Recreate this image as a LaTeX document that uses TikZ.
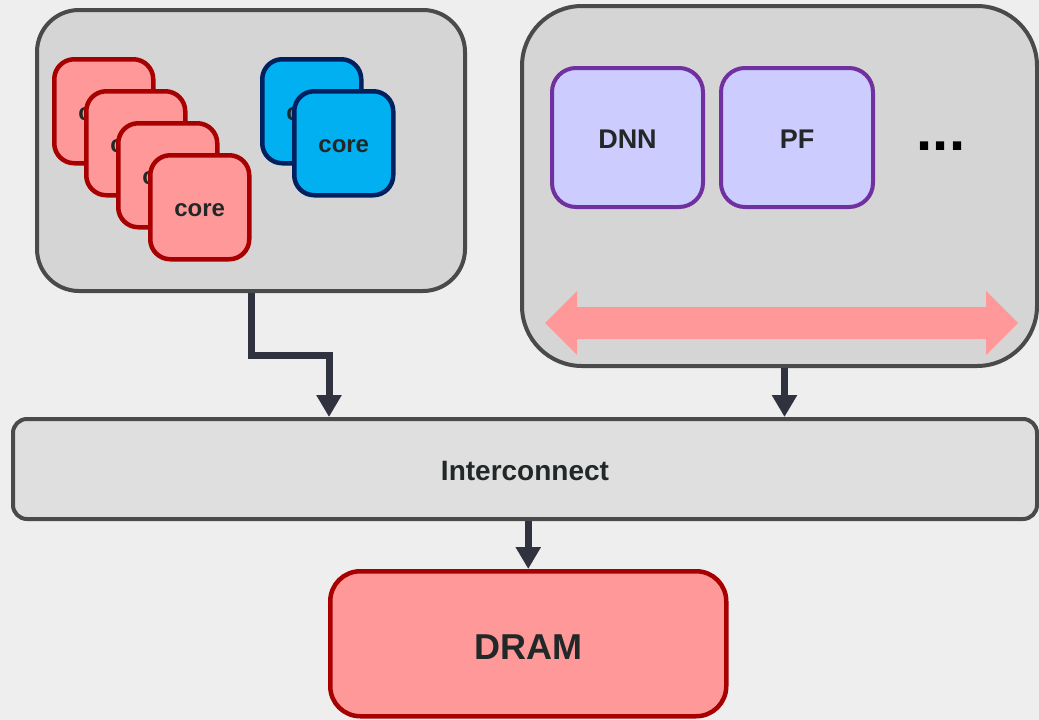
\documentclass[tikz,border=0pt]{standalone}
\usepackage{fontspec}
\setmainfont{Liberation Sans}
\usetikzlibrary{arrows.meta,calc}

\definecolor{bgc}{HTML}{EEEEEE}
\definecolor{boxfill}{HTML}{D5D5D5}
\definecolor{boxline}{HTML}{4A4A4A}
\definecolor{icfill}{HTML}{DFDFDF}
\definecolor{redfill}{HTML}{FF9999}
\definecolor{redline}{HTML}{A80000}
\definecolor{bluefill}{HTML}{00B0F0}
\definecolor{blueline}{HTML}{002060}
\definecolor{accfill}{HTML}{CCCCFF}
\definecolor{accline}{HTML}{7030A0}
\definecolor{connc}{HTML}{30323F}
\definecolor{txt}{HTML}{222828}

\tikzset{
  every node/.style={inner sep=0pt, text=txt},
  block/.style={draw=boxline, fill=boxfill, line width=4pt, anchor=north west},
  redcore/.style={draw=redline, fill=redfill, line width=4.5pt, rounded corners=20pt,
    minimum width=99pt, minimum height=104pt, anchor=north west,
    text height=18pt, text depth=0pt,
    font=\fontsize{24}{28}\selectfont\bfseries},
  bluecore/.style={redcore, draw=blueline, fill=bluefill},
  accel/.style={draw=accline, fill=accfill, line width=4pt, rounded corners=24pt,
    minimum height=139pt, anchor=north west, text height=21pt, text depth=0pt,
    font=\fontsize{27}{32}\selectfont\bfseries},
  conn/.style={draw=connc, line width=7pt, -{Triangle[length=22pt,width=24pt]}},
}

\begin{document}
\begin{tikzpicture}[x=1pt, y=-1pt]
  % canvas
  \fill[bgc] (0,0) rectangle (1039,720);
  \useasboundingbox (0,0) rectangle (1039,720);

  % CPU cluster (positions are outer corners)
  \node[block, rounded corners=42pt, minimum width=428pt, minimum height=281pt] (L) at (35,8) {};
  \node[redcore] (r1) at (52,57)  {core};
  \node[redcore] (r2) at (84,89)  {core};
  \node[redcore] (r3) at (116,121) {core};
  \node[redcore] (r4) at (148,153) {core};
  \node[bluecore] (b1) at (260,57) {core};
  \node[bluecore] (b2) at (292,89) {core};

  % accelerator cluster
  \node[block, rounded corners=60pt, minimum width=515pt, minimum height=360pt] (R) at (520,4) {};
  \node[accel, minimum width=151pt] (dnn) at (550,66) {DNN};
  \node[accel, minimum width=152pt] (pf) at (719,66) {PF};
  \node[anchor=base, text=black, font=\fontsize{58}{60}\selectfont\bfseries] (more) at (941,150) {...};
  \fill[redfill] (545,323) -- (577,291) -- (577,307) -- (986,307) -- (986,291)
    -- (1018,323) -- (986,355) -- (986,339) -- (577,339) -- (577,355) -- cycle;

  % interconnect
  \node[block, fill=icfill, rounded corners=14pt, minimum width=1024pt, minimum height=100pt,
    text height=22pt, text depth=0pt,
    font=\fontsize{28}{32}\selectfont\bfseries] (I) at (11,417) {Interconnect};

  % memory
  \node[draw=redline, fill=redfill, line width=4.5pt, rounded corners=30pt, anchor=north west,
    minimum width=396pt, minimum height=145pt, text height=31pt, text depth=0pt,
    font=\fontsize{36}{40}\selectfont\bfseries]
    (D) at (328,569) {DRAM};

  % connectors
  \coordinate (bend) at (329,355);
  \draw[conn] (L.south) |- (bend) -- (bend |- I.north);
  \draw[conn] ([xshift=5pt]R.south) -- ([xshift=5pt]R.south |- I.north);
  \draw[conn] (I.south -| D.north) -- (D.north);
\end{tikzpicture}
\end{document}
